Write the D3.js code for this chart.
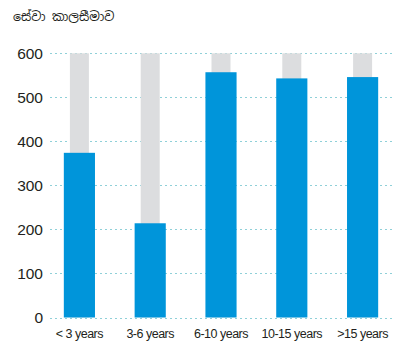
<!DOCTYPE html>
<html><head><meta charset="utf-8">
<script src="https://cdn.jsdelivr.net/npm/d3@7"></script>
<style>body{margin:0;background:#fff;} svg{display:block;}</style>
</head><body>
<svg id="c" width="403" height="350"></svg>
<script>
const title = "සේවා කාලසීමාව";
const categories = ["< 3 years", "3-6 years", "6-10 years", "10-15 years", ">15 years"];
const values = [374, 214, 557, 543, 546];
const maxValue = 600;
const yTicks = [0, 100, 200, 300, 400, 500, 600];

const svg = d3.select("#c");
const x = d3.scaleBand().domain(categories).range([44, 398]).paddingInner(0.56).paddingOuter(0.28);
const y = d3.scaleLinear().domain([0, 600]).range([317.5, 53.3]);

// grid
svg.append("g").selectAll("line").data(yTicks).join("line")
  .attr("x1", 50).attr("x2", 394)
  .attr("y1", d => Math.round(y(d)) + 0.5).attr("y2", d => Math.round(y(d)) + 0.5)
  .attr("stroke", "#8fd0d8").attr("stroke-width", 1)
  .attr("stroke-dasharray", "2,3");

const bw = x.bandwidth();
// gray background bars
svg.append("g").selectAll("rect").data(categories).join("rect")
  .attr("x", d => x(d) + bw/2 - 9.5).attr("width", 19)
  .attr("y", y(maxValue)).attr("height", y(0) - y(maxValue))
  .attr("fill", "#dcdddf");
// blue bars
svg.append("g").selectAll("rect").data(values).join("rect")
  .attr("x", (d,i) => x(categories[i])).attr("width", bw)
  .attr("y", d => y(d)).attr("height", d => y(0) - y(d))
  .attr("fill", "#0095da");

// y labels
svg.append("g").selectAll("text").data(yTicks).join("text")
  .attr("x", 43).attr("y", d => y(d)).attr("dy", "0.36em")
  .attr("text-anchor", "end")
  .attr("font-family", "Liberation Sans, Arial, sans-serif")
  .attr("font-size", 15.5).attr("fill", "#231f20")
  .text(d => d);

// x labels
svg.append("g").selectAll("text").data(categories).join("text")
  .attr("x", d => x(d) + bw/2).attr("y", 338)
  .attr("text-anchor", "middle")
  .attr("font-family", "Liberation Sans, Arial, sans-serif")
  .attr("font-size", 12.5).attr("letter-spacing", -0.5).attr("fill", "#231f20")
  .text(d => d);

svg.append("text").attr("x", 13).attr("y", 21)
  .attr("font-family", "Noto Sans Sinhala, Noto Sans, sans-serif")
  .attr("font-size", 12.5).attr("fill", "#231f20")
  .text(title);
</script>
</body></html>
